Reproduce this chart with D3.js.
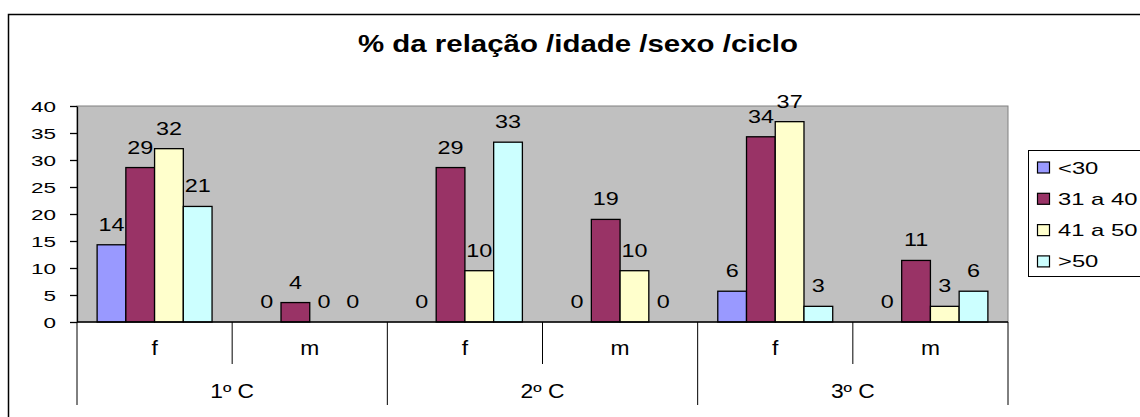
<!DOCTYPE html>
<html>
<head>
<meta charset="utf-8">
<script src="https://cdn.jsdelivr.net/npm/d3@7"></script>
<style>
  body { margin: 0; background: #fff; }
  svg { display: block; font-family: "Liberation Sans", Arial, sans-serif; }
</style>
</head>
<body>
<div class="chart"></div>
<script>
// chart values
const cycles = ['1º C', '2º C', '3º C'];
const sexes = ['f', 'm'];
const series = ['<30', '31 a 40', '41 a 50', '>50'];
const colors = ['#9999FF', '#993366', '#FFFFCC', '#CCFFFF'];
const yTicks = [0, 5, 10, 15, 20, 25, 30, 35, 40];

// one row per (cycle, sex), one value per age series
const values = [
	[14.3, 28.6, 32.1, 21.4], // 1º C f
	[0, 3.6, 0, 0],           // 1º C m
	[0, 28.6, 9.5, 33.3],     // 2º C f
	[0, 19.0, 9.5, 0],        // 2º C m
	[5.7, 34.3, 37.1, 2.9],   // 3º C f
	[0, 11.4, 2.9, 5.7]       // 3º C m
];

const title = '% da relação /idade /sexo /ciclo';

const width = 1140;
const height = 417;
const plot = {left: 77, right: 1008, top: 106, bottom: 322};

const svg = d3.select('.chart')
	.append('svg')
	.attr('width', width)
	.attr('height', height);

// outer chart border
svg.append('rect')
	.attr('x', 8.5).attr('y', 14.5)
	.attr('width', 1150).attr('height', 420)
	.attr('fill', 'white')
	.attr('stroke', 'black')
	.attr('stroke-width', 1.5);

// text helper: the picture's text is stretched sideways
function label(g, x, y, txt, size, sx, anchor, weight) {
	return g.append('text')
		.attr('transform', `translate(${x},${y}) scale(${sx},1)`)
		.attr('text-anchor', anchor || 'middle')
		.style('font-size', size + 'px')
		.style('font-weight', weight || 'normal')
		.text(txt);
}

label(svg, 578, 52, title, 23, 1.28, 'middle', 'bold');

const groups = [];
cycles.forEach(c => sexes.forEach(s => groups.push(c + '|' + s)));

const x0 = d3.scaleBand()
	.domain(groups)
	.range([plot.left, plot.right]);
const x1 = d3.scaleBand()
	.domain(series)
	.range([0, x0.bandwidth()])
	.paddingInner(0)
	.paddingOuter(0.7);
const xc = d3.scaleBand()
	.domain(cycles)
	.range([plot.left, plot.right]);
const y = d3.scaleLinear()
	.domain([0, 40])
	.range([plot.bottom, plot.top]);

// plot area
svg.append('rect')
	.attr('x', plot.left).attr('y', plot.top)
	.attr('width', plot.right - plot.left)
	.attr('height', plot.bottom - plot.top)
	.attr('fill', '#C0C0C0')
	.attr('stroke', '#808080')
	.attr('stroke-width', 1);

// bars
const rows = svg.selectAll('.grp')
	.data(values)
	.enter()
	.append('g')
	.attr('transform', (d, i) => `translate(${x0(groups[i])},0)`);

rows.selectAll('rect')
	.data(d => d.map((v, j) => ({v: v, s: series[j], c: colors[j]})))
	.enter()
	.filter(d => d.v > 0)
	.append('rect')
	.attr('x', d => x1(d.s))
	.attr('y', d => y(d.v))
	.attr('width', x1.bandwidth())
	.attr('height', d => y(0) - y(d.v))
	.attr('fill', d => d.c)
	.attr('stroke', 'black')
	.attr('stroke-width', 1.3);

rows.each(function (d) {
	const g = d3.select(this);
	d.forEach((v, j) => {
		label(g, x1(series[j]) + x1.bandwidth() / 2, y(v) - 14, Math.round(v), 18, 1.3);
	});
});

// y axis
const yAxis = svg.append('g')
	.attr('transform', `translate(${plot.left},0)`)
	.call(d3.axisLeft(y).tickValues(yTicks).tickSize(7).tickSizeOuter(0));
yAxis.select('.domain').attr('stroke', 'black').attr('stroke-width', 1.3);
yAxis.selectAll('.tick line').attr('stroke', 'black').attr('stroke-width', 1.3);
yAxis.selectAll('.tick text')
	.attr('x', 0)
	.attr('dy', '0.35em')
	.attr('transform', 'translate(-21,0) scale(1.5,1)')
	.attr('fill', 'black')
	.style('font-size', '15px')
	.style('font-family', '"Liberation Sans", Arial, sans-serif');

// x axis line and category dividers
svg.append('line')
	.attr('x1', plot.left).attr('x2', plot.right)
	.attr('y1', plot.bottom).attr('y2', plot.bottom)
	.attr('stroke', 'black').attr('stroke-width', 1.5);

svg.selectAll('.minor')
	.data(groups)
	.enter()
	.filter(d => d.endsWith('|m'))
	.append('line')
	.attr('x1', d => x0(d)).attr('x2', d => x0(d))
	.attr('y1', plot.bottom).attr('y2', 364)
	.attr('stroke', 'black').attr('stroke-width', 1);

svg.selectAll('.major')
	.data(cycles.concat(['end']))
	.enter()
	.append('line')
	.attr('x1', d => d === 'end' ? plot.right : xc(d))
	.attr('x2', d => d === 'end' ? plot.right : xc(d))
	.attr('y1', plot.bottom).attr('y2', 405)
	.attr('stroke', 'black').attr('stroke-width', 1);

groups.forEach(gname => {
	label(svg, x0(gname) + x0.bandwidth() / 2, 355, gname.split('|')[1], 19.5, 1.17);
});
cycles.forEach(c => {
	label(svg, xc(c) + xc.bandwidth() / 2, 398, c, 19.5, 1.17);
});

// legend
const legend = svg.append('g');
legend.append('rect')
	.attr('x', 1028.5).attr('y', 150.5)
	.attr('width', 130).attr('height', 126)
	.attr('fill', 'white')
	.attr('stroke', 'black')
	.attr('stroke-width', 1);

series.forEach((s, j) => {
	const cy = 167.5 + j * 31.3;
	legend.append('rect')
		.attr('x', 1037.5).attr('y', cy - 5.5)
		.attr('width', 12).attr('height', 11)
		.attr('fill', colors[j])
		.attr('stroke', 'black')
		.attr('stroke-width', 1.2);
	label(legend, 1058, cy + 6, s, 17, 1.4, 'start');
});
</script>
</body>
</html>
